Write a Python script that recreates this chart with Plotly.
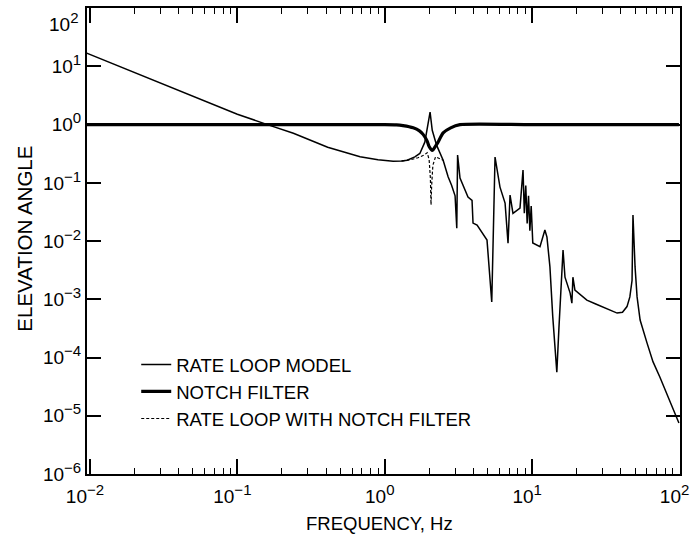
import plotly.graph_objects as go

# ---- data ----
rate_f = [0.0095, 0.02, 0.05, 0.1, 0.16, 0.24, 0.41, 0.68, 0.9, 1.14, 1.3, 1.42, 1.6, 1.73,
          1.87, 1.97, 2.03, 2.1, 2.25, 2.49, 2.69, 2.84, 3.0, 3.08, 3.12, 3.24, 3.67, 3.91,
          3.97, 4.23, 4.94, 5.32, 5.6, 6.05, 6.55, 6.86, 7.08, 7.41, 8.27, 8.67, 8.85, 9.05,
          9.25, 9.45, 9.65, 9.85, 10.1, 11.3, 12.2, 12.6, 13.2, 13.8, 14.7, 15.2, 15.9, 16.2,
          16.7, 18.1, 18.6, 18.9, 19.5, 21.5, 23.5, 27.0, 30.3, 34.0, 37.7, 41.0, 44.0, 46.0,
          47.6, 48.3, 49.9, 51.5, 54.0, 60.2, 66.0, 73.6, 81.0, 90.2, 99.0]
rate_y = [16.9, 7.9, 3.08, 1.51, 1.0, 0.71, 0.41, 0.28, 0.25, 0.236, 0.237, 0.245, 0.28, 0.32,
          0.5, 1.0, 1.64, 0.8, 0.44, 0.245, 0.127, 0.091, 0.06, 0.0166, 0.3, 0.121, 0.057, 0.05,
          0.0204, 0.0188, 0.0104, 0.0009, 0.277, 0.0845, 0.045, 0.0092, 0.0617, 0.03, 0.037, 0.166, 0.03, 0.09,
          0.02, 0.06, 0.015, 0.04, 0.0093, 0.008, 0.0155, 0.0117, 0.0036, 0.0005, 5.6e-5, 3.3e-4, 0.0028, 0.007,
          0.0024, 0.00128, 0.00086, 0.0024, 0.00144, 0.00115, 0.00097, 0.00083, 0.00074, 0.00065, 0.00058, 0.0006, 0.00075, 0.0011,
          0.0021, 0.028, 0.0036, 0.0011, 0.00044, 0.000177, 8.5e-5, 4.6e-5, 2.6e-5, 1.4e-5, 7.5e-6]

notch_f = [0.0095, 0.5, 1.0, 1.2, 1.33, 1.56, 1.72, 1.82, 1.94, 2.0, 2.1, 2.2, 2.3, 2.49, 2.8, 3.24, 10.0, 99.0]
notch_y = [1.0, 1.0, 1.0, 0.99, 0.96, 0.88, 0.78, 0.68, 0.52, 0.42, 0.36, 0.42, 0.5, 0.72, 0.88, 1.0, 1.0, 1.0]

combo_f = [1.3, 1.5, 1.68, 1.85, 1.94, 2.0, 2.04, 2.06, 2.08, 2.12, 2.21, 2.3, 2.49]
combo_y = [0.237, 0.25, 0.27, 0.3, 0.33, 0.25, 0.12, 0.042, 0.09, 0.2, 0.28, 0.27, 0.245]

y_tickvals = [1e-6, 1e-5, 1e-4, 1e-3, 1e-2, 1e-1, 1e0, 1e1, 1e2]
y_exponents = ["−6", "−5", "−4", "−3", "−2", "−1", "0", "1", "2"]
x_tickvals = [1e-2, 1e-1, 1e0, 1e1, 1e2]
x_exponents = ["−2", "−1", "0", "1", "2"]

FONT = "Liberation Sans, Arial, sans-serif"


def power_label(e):
    return "10<sup><span style='font-size:15px'>" + e + "</span></sup>"


# the top y label sits just below its tick in the reference, so it is drawn as an annotation
y_ticktext = [power_label(e) for e in y_exponents[:-1]] + [""]
top_label = power_label(y_exponents[-1])

fig = go.Figure()
fig.add_trace(go.Scatter(x=rate_f, y=rate_y, mode="lines", name="RATE LOOP MODEL",
                         line=dict(color="black", width=1.5)))
fig.add_trace(go.Scatter(x=notch_f, y=notch_y, mode="lines", name="NOTCH FILTER",
                         line=dict(color="black", width=3.2, shape="spline", smoothing=0.6)))
fig.add_trace(go.Scatter(x=combo_f, y=combo_y, mode="lines", name="RATE LOOP WITH NOTCH FILTER",
                         line=dict(color="black", width=1.2, dash="3px,2px")))

axis_common = dict(showline=True, linecolor="black", linewidth=2, mirror="ticks",
                   showgrid=False, zeroline=False, ticks="inside", tickcolor="black",
                   automargin=False, ticklabeloverflow="allow",
                   tickfont=dict(family=FONT, size=19, color="black"))

fig.update_xaxes(type="log", range=[-2.02, 2.003], tickmode="array", tickvals=x_tickvals,
                 ticktext=[power_label(e) for e in x_exponents], ticklen=15, tickwidth=1.5,
                 ticklabelstandoff=4, ticklabelshift=-5,
                 minor=dict(ticks="inside", ticklen=6, tickcolor="black", tickwidth=1.2, dtick="D1", showgrid=False),
                 **axis_common)
fig.update_yaxes(type="log", range=[-6, 2.003], tickmode="array", tickvals=y_tickvals,
                 ticktext=y_ticktext, ticklen=14, tickwidth=1.5, **axis_common)

fig.update_layout(
    width=691, height=539,
    margin=dict(l=87, r=11, t=8, b=65),
    paper_bgcolor="white", plot_bgcolor="white",
    font=dict(family=FONT, size=19, color="black"),
    showlegend=True,
    legend=dict(x=0.083, y=0.275, xanchor="left", yanchor="top", bgcolor="rgba(0,0,0,0)",
                font=dict(family=FONT, size=18.5, color="black"), tracegroupgap=0),
    annotations=[
        dict(text=top_label, xref="paper", yref="paper", x=0, y=1, xshift=-7, yshift=-14,
             xanchor="right", yanchor="middle", showarrow=False,
             font=dict(family=FONT, size=19, color="black")),
        dict(text="FREQUENCY, Hz", xref="paper", yref="paper", x=0.493, y=0, yshift=-49,
             xanchor="center", yanchor="middle", showarrow=False,
             font=dict(family=FONT, size=18.5, color="black")),
        dict(text="ELEVATION ANGLE", xref="paper", yref="paper", x=0, y=0.505, xshift=-62,
             xanchor="center", yanchor="middle", textangle=-90, showarrow=False,
             font=dict(family=FONT, size=20.5, color="black")),
    ],
)

fig.write_html("out.html")
